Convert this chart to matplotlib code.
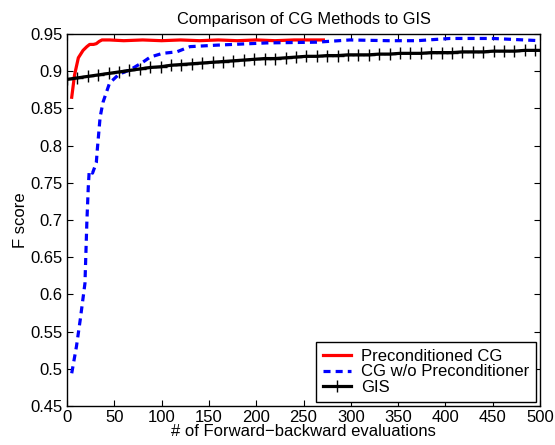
"""
Comparison of CG methods to GIS: F score vs number of forward-backward evaluations.
"""

import matplotlib
matplotlib.use("Agg")
import matplotlib.pyplot as plt

# preconditioned CG
pcg_x = [5, 8, 12, 17, 21, 24, 28, 31, 34, 37, 45, 60, 80, 100, 120, 140, 160, 180,
         200, 220, 240, 260, 271]
pcg_y = [0.865, 0.895, 0.918, 0.928, 0.933, 0.936, 0.936, 0.937, 0.940, 0.942, 0.942,
         0.941, 0.942, 0.941, 0.942, 0.941, 0.942, 0.941, 0.942, 0.941, 0.942, 0.942, 0.942]

# CG without preconditioner
cg_x = [5, 10, 14, 19, 21, 22.5, 23.5, 27, 31, 32, 35, 38, 45, 55, 67, 80, 88, 101, 116,
        130, 158, 211, 264, 299, 340, 370, 405, 450, 500]
cg_y = [0.494, 0.53, 0.566, 0.615, 0.697, 0.744, 0.766, 0.763, 0.777, 0.794, 0.838, 0.858,
        0.884, 0.896, 0.902, 0.912, 0.919, 0.924, 0.926, 0.933, 0.935, 0.938, 0.939, 0.942,
        0.941, 0.941, 0.944, 0.944, 0.941]

# GIS
gis_x = [0, 11, 22, 33, 44, 55, 66, 77, 88, 99, 110, 121, 132, 143, 154, 165, 176, 187,
         198, 209, 220, 231, 242, 253, 264, 275, 286, 297, 308, 319, 330, 341, 352, 363,
         374, 385, 396, 407, 418, 429, 440, 451, 462, 473, 484, 495, 506]
gis_y = [0.889, 0.891, 0.893, 0.895, 0.897, 0.899, 0.901, 0.903, 0.905, 0.906, 0.908,
         0.909, 0.910, 0.911, 0.912, 0.913, 0.914, 0.915, 0.916, 0.917, 0.917, 0.918,
         0.919, 0.920, 0.920, 0.921, 0.921, 0.922, 0.922, 0.922, 0.923, 0.923, 0.924,
         0.924, 0.924, 0.925, 0.925, 0.925, 0.926, 0.926, 0.926, 0.927, 0.927, 0.927,
         0.928, 0.928, 0.928]

x_ticks = [0, 50, 100, 150, 200, 250, 300, 350, 400, 450, 500]
y_ticks = [0.45, 0.5, 0.55, 0.6, 0.65, 0.7, 0.75, 0.8, 0.85, 0.9, 0.95]
y_labels = ["0.45", "0.5", "0.55", "0.6", "0.65", "0.7", "0.75", "0.8", "0.85", "0.9", "0.95"]

plt.rcParams['font.family'] = ['Liberation Sans', 'DejaVu Sans']

fig = plt.figure(figsize=(5.55, 4.45), dpi=100)
ax = fig.add_axes([0.1207, 0.0876, 0.8523, 0.836])

ax.plot(pcg_x, pcg_y, color='red', lw=2.3, label='Preconditioned CG')
ax.plot(cg_x, cg_y, color='blue', lw=2.3, ls=(0, (2.2, 1.6)), label='CG w/o Preconditioner')
ax.plot(gis_x, gis_y, color='black', lw=2.3, marker='+', ms=8, mew=1.0, label='GIS')

ax.set_xlim(0, 500)
ax.set_ylim(0.45, 0.95)
ax.set_xticks(x_ticks)
ax.set_yticks(y_ticks)
ax.set_yticklabels(y_labels)
ax.tick_params(direction='in', top=True, right=True, labelsize=12, length=4, pad=3)
for s in ax.spines.values():
    s.set_linewidth(1.0)

ax.set_title('Comparison of CG Methods to GIS', fontsize=11.8, pad=7)
ax.set_xlabel('# of Forward\u2212backward evaluations', fontsize=12, labelpad=-1)
ax.set_ylabel('F score', fontsize=12, labelpad=2)

leg = ax.legend(loc='lower right', fontsize=12, fancybox=False, framealpha=1,
                edgecolor='black', borderaxespad=0.25, handlelength=1.7,
                handletextpad=0.6, borderpad=0.4, labelspacing=0.05)
leg.get_frame().set_linewidth(1.0)

fig.savefig('out.png', dpi=100)
